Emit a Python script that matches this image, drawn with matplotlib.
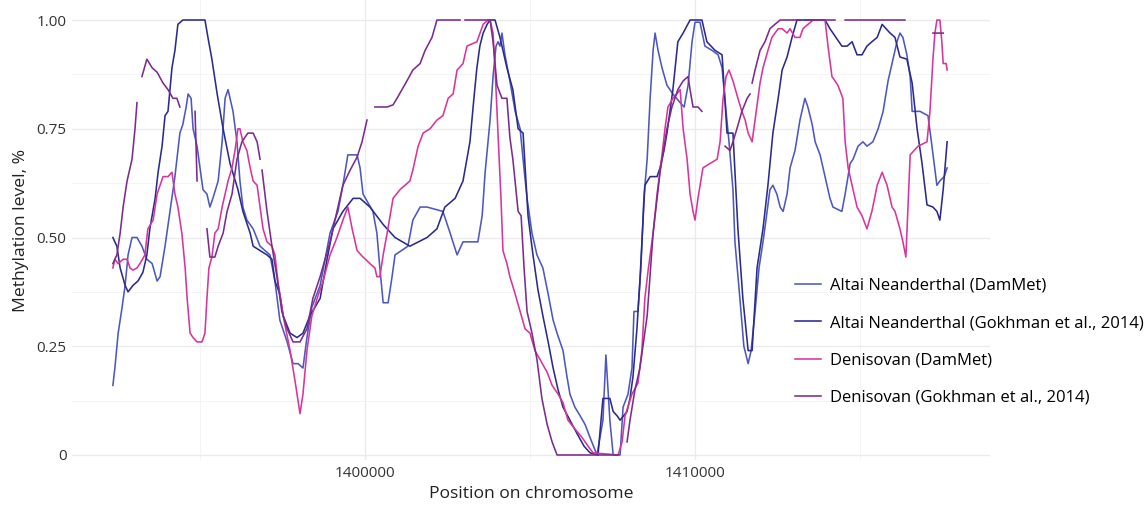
import numpy as np
import matplotlib
matplotlib.use("Agg")
import matplotlib.pyplot as plt
from matplotlib.ticker import FixedLocator, FixedFormatter

plt.rcParams['font.family'] = ['Open Sans', 'DejaVu Sans']

# positions in kb on the chromosome, methylation level (0-1)
# Altai Neanderthal (DamMet)
pos_alt_dm = [1392.36, 1392.42, 1392.52, 1392.64, 1392.73, 1392.82, 1392.94, 1393.09, 1393.24, 1393.39,
              1393.55, 1393.70, 1393.79, 1393.94, 1394.09, 1394.24, 1394.39, 1394.48, 1394.58, 1394.64,
              1394.73, 1394.79, 1394.91, 1395.00, 1395.09, 1395.21, 1395.30, 1395.39, 1395.55, 1395.67,
              1395.76, 1395.85, 1396.00, 1396.12, 1396.21, 1396.30, 1396.42, 1396.61, 1396.82, 1397.12,
              1397.27, 1397.42, 1397.64, 1397.82, 1397.97, 1398.12, 1398.24, 1398.39, 1398.64, 1398.94,
              1399.18, 1399.33, 1399.48, 1399.76, 1399.85, 1399.94, 1400.24, 1400.36, 1400.45, 1400.55,
              1400.70, 1400.82, 1400.91, 1401.30, 1401.45, 1401.67, 1401.88, 1402.36, 1402.58, 1402.79,
              1402.97, 1403.42, 1403.55, 1403.64, 1403.79, 1403.88, 1403.97, 1404.03, 1404.09, 1404.15,
              1404.24, 1404.39, 1404.55, 1404.70, 1404.79, 1404.91, 1405.06, 1405.21, 1405.39, 1405.55,
              1405.70, 1405.82, 1406.00, 1406.12, 1406.21, 1406.36, 1406.52, 1406.67, 1406.82, 1407.03,
              1407.21, 1407.30, 1407.42, 1407.52, 1407.73, 1407.82, 1407.97, 1408.09, 1408.15, 1408.27,
              1408.36, 1408.45, 1408.55, 1408.64, 1408.73, 1408.79, 1408.88, 1409.00, 1409.15, 1409.33,
              1409.55, 1409.67, 1409.79, 1409.91, 1410.00, 1410.15, 1410.30, 1410.52, 1410.70, 1410.82,
              1410.94, 1411.03, 1411.15, 1411.21, 1411.36, 1411.48, 1411.61, 1411.70, 1411.82, 1411.94,
              1412.06, 1412.15, 1412.27, 1412.36, 1412.48, 1412.58, 1412.67, 1412.79, 1412.88, 1413.03,
              1413.18, 1413.33, 1413.42, 1413.55, 1413.64, 1413.79, 1413.94, 1414.09, 1414.18, 1414.45,
              1414.55, 1414.70, 1414.79, 1414.94, 1415.09, 1415.21, 1415.39, 1415.55, 1415.70, 1415.85,
              1416.00, 1416.12, 1416.21, 1416.30, 1416.42, 1416.52, 1416.58, 1416.82, 1417.06, 1417.18,
              1417.33, 1417.42, 1417.55, 1417.64]
met_alt_dm = [0.16, 0.20, 0.28, 0.34, 0.39, 0.46, 0.50, 0.50, 0.48, 0.45,
              0.44, 0.40, 0.41, 0.48, 0.56, 0.64, 0.74, 0.76, 0.80, 0.83,
              0.82, 0.75, 0.71, 0.66, 0.61, 0.60, 0.57, 0.59, 0.63, 0.72,
              0.82, 0.84, 0.79, 0.72, 0.63, 0.57, 0.54, 0.52, 0.48, 0.46,
              0.40, 0.31, 0.26, 0.21, 0.21, 0.20, 0.27, 0.34, 0.39, 0.51,
              0.56, 0.62, 0.69, 0.69, 0.66, 0.60, 0.56, 0.51, 0.43, 0.35,
              0.35, 0.41, 0.46, 0.48, 0.54, 0.57, 0.57, 0.56, 0.51, 0.46,
              0.49, 0.49, 0.55, 0.65, 0.77, 0.87, 0.94, 0.95, 0.94, 0.97,
              0.92, 0.86, 0.79, 0.75, 0.68, 0.59, 0.51, 0.46, 0.43, 0.37,
              0.31, 0.28, 0.24, 0.18, 0.14, 0.11, 0.09, 0.07, 0.04, 0.00,
              0.08, 0.23, 0.08, 0.00, 0.00, 0.11, 0.14, 0.20, 0.33, 0.33,
              0.43, 0.59, 0.68, 0.82, 0.93, 0.97, 0.93, 0.89, 0.85, 0.83,
              0.81, 0.80, 0.85, 0.95, 0.995, 0.995, 0.94, 0.93, 0.92, 0.89,
              0.79, 0.72, 0.61, 0.49, 0.36, 0.25, 0.21, 0.24, 0.33, 0.43,
              0.49, 0.54, 0.61, 0.62, 0.60, 0.57, 0.56, 0.60, 0.66, 0.70,
              0.77, 0.82, 0.80, 0.76, 0.72, 0.69, 0.64, 0.59, 0.57, 0.56,
              0.60, 0.67, 0.68, 0.71, 0.72, 0.71, 0.72, 0.75, 0.79, 0.86,
              0.91, 0.95, 0.97, 0.96, 0.92, 0.87, 0.79, 0.79, 0.78, 0.71,
              0.62, 0.63, 0.64, 0.66]

# Altai Neanderthal (Gokhman et al., 2014)
pos_alt_gk = [1392.36, 1392.48, 1392.58, 1392.73, 1392.82, 1392.97, 1393.12, 1393.27, 1393.39, 1393.48,
              1393.64, 1393.73, 1393.85, 1393.94, 1394.03, 1394.15, 1394.24, 1394.33, 1394.48, 1395.15,
              1395.24, 1395.36, 1395.52, 1395.70, 1395.91, 1396.15, 1396.30, 1396.52, 1396.61, 1396.82,
              1397.03, 1397.18, 1397.27, 1397.42, 1397.52, 1397.73, 1397.94, 1398.12, 1398.33, 1398.64,
              1398.85, 1399.03, 1399.33, 1399.64, 1399.85, 1400.15, 1400.55, 1400.91, 1401.36, 1401.88,
              1402.18, 1402.42, 1402.73, 1402.97, 1403.18, 1403.30, 1403.39, 1403.48, 1403.58, 1403.70,
              1403.79, 1403.94, 1404.09, 1404.18, 1404.30, 1404.48, 1404.64, 1404.79, 1404.94, 1405.09,
              1405.24, 1405.39, 1405.55, 1405.70, 1405.85, 1406.00, 1406.21, 1406.42, 1406.64, 1406.82,
              1407.06, 1407.21, 1407.42, 1407.52, 1407.64, 1407.73, 1407.94, 1408.03, 1408.12, 1408.24,
              1408.33, 1408.48, 1408.64, 1408.85, 1408.94, 1409.06, 1409.15, 1409.24, 1409.33, 1409.48,
              1409.64, 1409.85, 1410.21, 1410.36, 1410.61, 1410.82, 1410.97, 1411.15, 1411.30, 1411.45,
              1411.61, 1411.73, 1411.88, 1412.06, 1412.21, 1412.36, 1412.52, 1412.64, 1412.79, 1412.94,
              1413.09, 1413.94, 1414.09, 1414.27, 1414.45, 1414.61, 1414.76, 1414.91, 1415.06, 1415.21,
              1415.36, 1415.52, 1415.67, 1415.79, 1415.91, 1416.06, 1416.21, 1416.42, 1416.58, 1416.73,
              1416.88, 1417.03, 1417.21, 1417.33, 1417.42, 1417.52, 1417.64]
met_alt_gk = [0.50, 0.48, 0.43, 0.39, 0.375, 0.39, 0.40, 0.42, 0.46, 0.52,
              0.59, 0.65, 0.71, 0.78, 0.79, 0.89, 0.93, 0.99, 1.00, 1.00,
              0.96, 0.91, 0.83, 0.75, 0.67, 0.61, 0.56, 0.51, 0.48, 0.47,
              0.46, 0.45, 0.40, 0.37, 0.32, 0.28, 0.27, 0.28, 0.32, 0.36,
              0.45, 0.52, 0.56, 0.59, 0.59, 0.57, 0.53, 0.50, 0.48, 0.50,
              0.52, 0.57, 0.59, 0.63, 0.72, 0.82, 0.89, 0.94, 0.97, 0.99,
              1.00, 1.00, 0.96, 0.93, 0.89, 0.84, 0.75, 0.74, 0.55, 0.46,
              0.38, 0.32, 0.26, 0.20, 0.15, 0.11, 0.08, 0.05, 0.02, 0.005,
              0.00, 0.13, 0.13, 0.10, 0.09, 0.08, 0.10, 0.13, 0.18, 0.29,
              0.40, 0.62, 0.64, 0.64, 0.66, 0.70, 0.74, 0.79, 0.84, 0.95,
              0.97, 1.00, 1.00, 0.95, 0.93, 0.92, 0.74, 0.74, 0.52, 0.36,
              0.24, 0.24, 0.43, 0.52, 0.62, 0.74, 0.82, 0.885, 0.915, 0.96,
              1.00, 1.00, 0.98, 0.96, 0.94, 0.94, 0.95, 0.92, 0.92, 0.94,
              0.95, 0.96, 0.99, 0.98, 0.97, 0.96, 0.915, 0.91, 0.855, 0.75,
              0.67, 0.575, 0.57, 0.56, 0.54, 0.61, 0.72]

# Denisovan (DamMet)
pos_den_dm = [1392.36, 1392.42, 1392.52, 1392.67, 1392.79, 1392.88, 1392.97, 1393.09, 1393.18, 1393.33,
              1393.42, 1393.58, 1393.70, 1393.79, 1393.88, 1394.03, 1394.15, 1394.24, 1394.33, 1394.45,
              1394.55, 1394.61, 1394.70, 1394.79, 1394.91, 1395.06, 1395.15, 1395.21, 1395.27, 1395.36,
              1395.45, 1395.55, 1395.67, 1395.76, 1395.85, 1395.97, 1396.06, 1396.15, 1396.21, 1396.30,
              1396.42, 1396.52, 1396.61, 1396.73, 1396.82, 1396.91, 1397.03, 1397.18, 1397.27, 1397.36,
              1397.52, 1397.73, 1397.88, 1398.03, 1398.12, 1398.24, 1398.39, 1398.55, 1398.73, 1398.94,
              1399.15, 1399.33, 1399.48, 1399.61, 1399.76, 1399.94, 1400.15, 1400.30, 1400.36, 1400.45,
              1400.55, 1400.67, 1400.76, 1400.85, 1401.06, 1401.36, 1401.45, 1401.61, 1401.76, 1401.97,
              1402.18, 1402.36, 1402.52, 1402.67, 1402.79, 1402.97, 1403.09, 1403.39, 1403.58, 1403.73,
              1403.79, 1403.88, 1403.94, 1404.03, 1404.12, 1404.18, 1404.30, 1404.39, 1404.55, 1404.70,
              1404.85, 1405.00, 1405.15, 1405.30, 1405.52, 1405.67, 1405.85, 1406.00, 1406.15, 1406.36,
              1406.58, 1406.76, 1406.91, 1407.67, 1407.79, 1407.88, 1408.09, 1408.27, 1408.39, 1408.48,
              1408.58, 1408.73, 1408.85, 1409.00, 1409.09, 1409.18, 1409.33, 1409.45, 1409.55, 1409.64,
              1409.76, 1409.85, 1409.94, 1410.00, 1410.09, 1410.24, 1410.45, 1410.67, 1410.76, 1410.85,
              1410.94, 1411.03, 1411.15, 1411.30, 1411.42, 1411.52, 1411.61, 1411.73, 1411.82, 1411.97,
              1412.06, 1412.21, 1412.33, 1412.52, 1412.64, 1412.79, 1412.88, 1413.03, 1413.18, 1413.27,
              1413.42, 1413.58, 1413.94, 1414.03, 1414.15, 1414.33, 1414.48, 1414.55, 1414.64, 1414.76,
              1414.91, 1415.06, 1415.21, 1415.36, 1415.52, 1415.67, 1415.82, 1415.97, 1416.06, 1416.21,
              1416.30, 1416.39, 1416.52, 1416.76, 1417.03, 1417.12, 1417.21, 1417.27, 1417.33, 1417.42,
              1417.48, 1417.52, 1417.61, 1417.64]
met_den_dm = [0.43, 0.45, 0.44, 0.45, 0.45, 0.43, 0.425, 0.43, 0.44, 0.46,
              0.52, 0.54, 0.60, 0.62, 0.64, 0.64, 0.65, 0.60, 0.57, 0.51,
              0.43, 0.36, 0.28, 0.27, 0.26, 0.26, 0.28, 0.36, 0.43, 0.455,
              0.51, 0.52, 0.57, 0.60, 0.63, 0.66, 0.70, 0.75, 0.75, 0.72,
              0.70, 0.66, 0.63, 0.62, 0.57, 0.52, 0.49, 0.48, 0.46, 0.40,
              0.32, 0.24, 0.17, 0.095, 0.14, 0.24, 0.32, 0.36, 0.40, 0.46,
              0.50, 0.54, 0.57, 0.52, 0.47, 0.455, 0.44, 0.43, 0.41, 0.41,
              0.46, 0.51, 0.55, 0.59, 0.61, 0.63, 0.655, 0.71, 0.74, 0.75,
              0.77, 0.78, 0.82, 0.83, 0.885, 0.90, 0.94, 0.95, 0.99, 1.00,
              1.00, 0.97, 0.89, 0.74, 0.59, 0.47, 0.44, 0.41, 0.37, 0.33,
              0.29, 0.28, 0.24, 0.22, 0.19, 0.16, 0.14, 0.12, 0.08, 0.06,
              0.04, 0.02, 0.005, 0.00, 0.03, 0.09, 0.14, 0.165, 0.24, 0.36,
              0.425, 0.51, 0.60, 0.69, 0.75, 0.80, 0.82, 0.83, 0.84, 0.75,
              0.68, 0.60, 0.56, 0.54, 0.59, 0.66, 0.67, 0.68, 0.72, 0.82,
              0.87, 0.885, 0.86, 0.82, 0.79, 0.77, 0.74, 0.72, 0.77, 0.855,
              0.89, 0.93, 0.96, 0.98, 0.98, 0.97, 0.98, 0.96, 0.96, 0.98,
              0.99, 1.00, 1.00, 0.94, 0.87, 0.85, 0.82, 0.72, 0.66, 0.62,
              0.57, 0.55, 0.52, 0.56, 0.62, 0.65, 0.62, 0.57, 0.56, 0.52,
              0.49, 0.455, 0.69, 0.71, 0.72, 0.79, 0.91, 0.97, 1.00, 1.00,
              0.95, 0.90, 0.90, 0.885]

# Denisovan (Gokhman et al., 2014) -- None marks missing stretches
pos_den_gk = [1392.36, 1392.48, 1392.58, 1392.67, 1392.79, 1392.94, 1393.03, 1393.09, None,
              1393.24, 1393.39, 1393.55, 1393.70, 1393.88, 1394.03, 1394.18, 1394.30, 1394.39, None,
              1394.85, 1394.91, None,
              1395.21, 1395.30, 1395.45, 1395.55, 1395.70, 1395.82, 1395.97, 1396.12, 1396.27, 1396.45,
              1396.61, 1396.73, 1396.82, None,
              1396.88, 1397.03, 1397.18, 1397.33, 1397.48, 1397.64, 1397.82, 1398.03, 1398.24, 1398.42,
              1398.64, 1398.94, 1399.15, 1399.33, 1399.55, 1399.76, 1399.91, 1400.06, None,
              1400.30, 1400.45, 1400.67, 1400.85, 1400.97, 1401.12, 1401.27, 1401.45, 1401.67, 1401.82,
              1402.03, 1402.18, 1402.88, None,
              1403.03, 1403.79, 1403.88, 1404.00, 1404.15, 1404.30, 1404.39, 1404.48, 1404.64, 1404.73,
              1404.82, 1404.91, 1405.06, 1405.21, 1405.36, 1405.52, 1405.67, 1405.82, 1407.67, None,
              1407.94, 1408.03, 1408.18, 1408.33, 1408.55, 1408.73, 1408.94, 1409.15, 1409.30, 1409.48,
              1409.64, 1409.79, 1409.85, 1409.94, 1410.09, 1410.21, None,
              1410.91, 1411.06, 1411.15, 1411.27, 1411.42, 1411.58, 1411.67, None,
              1411.73, 1411.82, 1411.97, 1412.12, 1412.27, 1412.42, 1412.58, 1413.18, None,
              1413.33, 1414.24, None,
              1414.55, 1416.36, None,
              1417.21, 1417.52]
met_den_gk = [0.44, 0.46, 0.51, 0.57, 0.63, 0.68, 0.75, 0.81, None,
              0.87, 0.91, 0.89, 0.88, 0.855, 0.84, 0.82, 0.82, 0.80, None,
              0.79, 0.63, None,
              0.52, 0.455, 0.455, 0.48, 0.51, 0.56, 0.60, 0.68, 0.72, 0.74,
              0.74, 0.72, 0.68, None,
              0.655, 0.56, 0.48, 0.41, 0.33, 0.29, 0.26, 0.26, 0.29, 0.36,
              0.41, 0.49, 0.56, 0.62, 0.655, 0.685, 0.72, 0.77, None,
              0.80, 0.80, 0.80, 0.805, 0.82, 0.84, 0.86, 0.885, 0.90, 0.93,
              0.96, 1.00, 1.00, None,
              1.00, 1.00, 0.95, 0.85, 0.82, 0.82, 0.73, 0.68, 0.56, 0.55,
              0.43, 0.33, 0.28, 0.22, 0.13, 0.07, 0.03, 0.00, 0.00, None,
              0.03, 0.08, 0.15, 0.20, 0.32, 0.51, 0.65, 0.75, 0.80, 0.84,
              0.86, 0.87, 0.84, 0.80, 0.80, 0.79, None,
              0.71, 0.70, 0.72, 0.75, 0.79, 0.82, 0.83, None,
              0.855, 0.885, 0.93, 0.95, 0.98, 0.99, 1.00, 1.00, None,
              1.00, 1.00, None,
              1.00, 1.00, None,
              0.97, 0.97]

labels = ['Altai Neanderthal (DamMet)', 'Altai Neanderthal (Gokhman et al., 2014)',
          'Denisovan (DamMet)', 'Denisovan (Gokhman et al., 2014)']
colors = ['#4d58be', '#2c2b8d', '#d8359c', '#7a2c8e']

W, H = 1144, 505
fig = plt.figure(figsize=(W / 100, H / 100), dpi=100)
ax = fig.add_axes([72 / W, 45 / H, 918 / W, 460 / H])

series = [(pos_alt_dm, met_alt_dm), (pos_alt_gk, met_alt_gk),
          (pos_den_dm, met_den_dm), (pos_den_gk, met_den_gk)]
for (p, m), lab, col in zip(series, labels, colors):
    x = np.array([np.nan if v is None else v * 1000 for v in p])
    y = np.array([np.nan if v is None else v for v in m])
    ax.plot(x, y, color=col, lw=1.15, label=lab, solid_joinstyle='round')

ax.set_xlim(1391121, 1418939)
ax.set_ylim(-0.0115, 1.046)

ax.xaxis.set_major_locator(FixedLocator([1400000, 1410000]))
ax.xaxis.set_major_formatter(FixedFormatter(['1400000', '1410000']))
ax.xaxis.set_minor_locator(FixedLocator([1395000, 1405000, 1415000]))
ax.yaxis.set_major_locator(FixedLocator([0, 0.25, 0.5, 0.75, 1.0]))
ax.yaxis.set_major_formatter(FixedFormatter(['0', '0.25', '0.50', '0.75', '1.00']))
ax.yaxis.set_minor_locator(FixedLocator([0.125, 0.375, 0.625, 0.875]))

ax.grid(True, which='major', color='#ebebeb', lw=1.0)
ax.grid(True, which='minor', color='#f4f4f4', lw=0.7)
ax.set_axisbelow(True)
for s in ax.spines.values():
    s.set_visible(False)
ax.tick_params(which='both', length=0, labelsize=11, labelcolor='#333333', pad=4)

ax.set_xlabel('Position on chromosome', fontsize=12.6, color='#222222', labelpad=4)
ax.set_ylabel('Methylation level, %', fontsize=12.6, color='#222222', labelpad=5)

ax.legend(loc='upper left', bbox_to_anchor=(795 / W, 1 - 278 / H),
          bbox_transform=fig.transFigure, frameon=False, fontsize=12,
          handlelength=1.55, handletextpad=0.55, labelspacing=1.27,
          borderpad=0, borderaxespad=0)

fig.savefig('out.png', dpi=100)
